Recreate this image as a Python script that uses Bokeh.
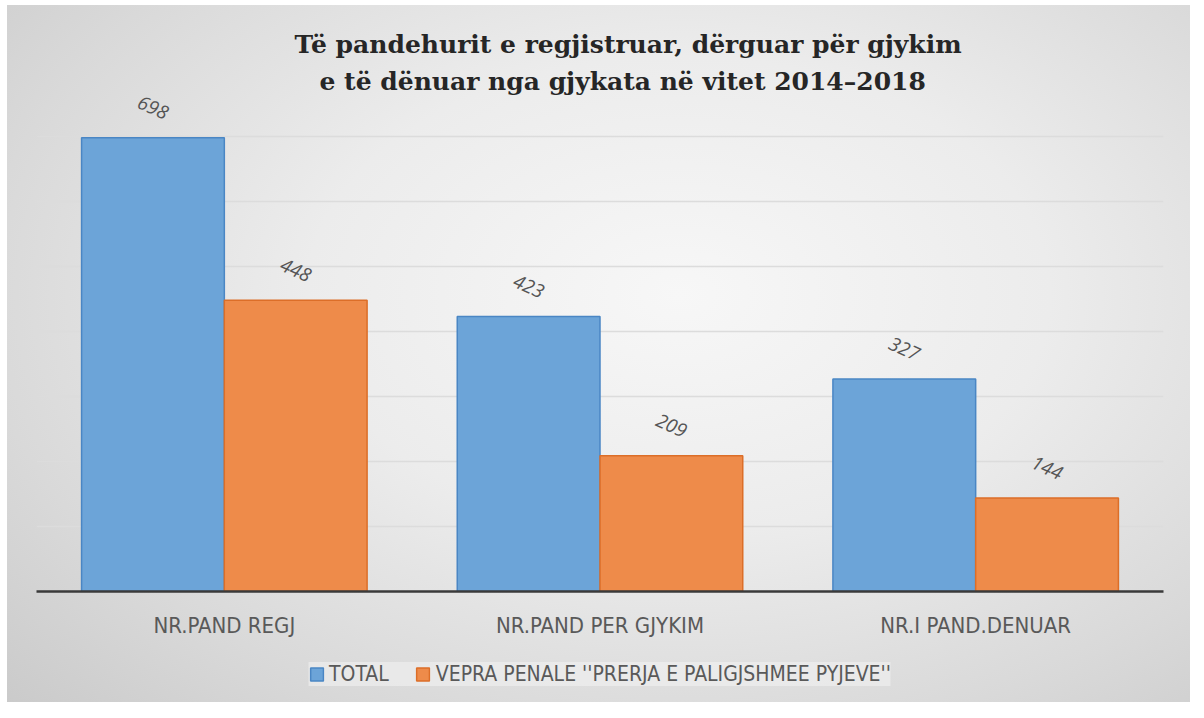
from bokeh.plotting import figure
from bokeh.layouts import column
from bokeh.models import (ColumnDataSource, FixedTicker, Legend, LegendItem,
                          InlineStyleSheet, Title)
from bokeh.transform import dodge
from bokeh.core.properties import value
from bokeh.embed import file_html
from bokeh.resources import INLINE

# ---- data ----
categories = ["NR.PAND REGJ", "NR.PAND PER GJYKIM", "NR.I PAND.DENUAR"]
total = [698, 423, 327]
vepra = [448, 209, 144]
series_names = ["TOTAL", "VEPRA PENALE ''PRERJA E PALIGJSHMEE PYJEVE''"]
grid_ticks = [100, 200, 300, 400, 500, 600, 700]
title_lines = ["Të pandehurit e regjistruar, dërguar për gjykim",
               "e të dënuar nga gjykata në vitet 2014–2018"]

src = ColumnDataSource(data=dict(
    cat=categories, total=total, vepra=vepra,
    total_lbl=[str(v) for v in total], vepra_lbl=[str(v) for v in vepra],
))

NARROW = "'Liberation Sans Narrow', 'DejaVu Sans Condensed', 'Open Sans', sans-serif"
blue_fill, blue_line = "#6ca4d8", "#4a86c4"
orange_fill, orange_line = "#ee8b4a", "#dc6e28"

# ---------------- main chart ----------------
p = figure(x_range=categories, y_range=(0, 760), width=1190, height=646,
           output_backend="svg", toolbar_location=None,
           min_border_left=36, min_border_right=27,
           min_border_top=97, min_border_bottom=55)
p.border_fill_alpha = 0
p.background_fill_alpha = 0
p.outline_line_color = None

tstyle = dict(align="left", text_font="DejaVu Serif", text_font_style="bold",
              text_font_size="25px", text_color="#262626")
p.add_layout(Title(text=title_lines[1], standoff=3, offset=283, **tstyle), "above")
p.add_layout(Title(text=title_lines[0], standoff=10, offset=258, **tstyle), "above")

r1 = p.vbar(x=dodge("cat", -0.19, range=p.x_range), top="total", width=0.38,
            source=src, fill_color=blue_fill, line_color=blue_line, line_width=1.5)
r2 = p.vbar(x=dodge("cat", 0.19, range=p.x_range), top="vepra", width=0.38,
            source=src, fill_color=orange_fill, line_color=orange_line, line_width=1.5)

lbl_style = dict(source=src, text_align="center", text_baseline="middle",
                 angle=-0.42, y_offset=-30, text_font=value("Open Sans"),
                 text_font_style="italic", text_font_size="19px", text_color="#555555")
p.text(x=dodge("cat", -0.19, range=p.x_range), y="total", text="total_lbl", **lbl_style)
p.text(x=dodge("cat", 0.19, range=p.x_range), y="vepra", text="vepra_lbl", **lbl_style)

p.yaxis.visible = False
p.xgrid.grid_line_color = None
p.ygrid.ticker = FixedTicker(ticks=grid_ticks)
p.ygrid.grid_line_color = "#dcdcdc"
p.ygrid.grid_line_width = 1.5

ax = p.xaxis[0]
ax.axis_line_color = "#3a3a3a"
ax.axis_line_width = 2.5
ax.major_tick_line_color = None
ax.minor_tick_line_color = None
ax.major_label_standoff = 15
ax.major_label_text_font = NARROW
ax.major_label_text_font_size = "22px"
ax.major_label_text_color = "#595959"

# ---------------- legend strip ----------------
lg = figure(width=1190, height=56, output_backend="svg", toolbar_location=None,
            min_border=0, x_axis_type=None, y_axis_type=None)
lg.border_fill_alpha = 0
lg.background_fill_alpha = 0
lg.outline_line_color = None
lg.grid.visible = False
# hidden renderers that only provide the legend swatches
d1 = lg.vbar(x="total", top="total", width=1, source=src, visible=False,
             fill_color=blue_fill, line_color=blue_line, line_width=1.5)
d2 = lg.vbar(x="vepra", top="vepra", width=1, source=src, visible=False,
             fill_color=orange_fill, line_color=orange_line, line_width=1.5)
legend = Legend(items=[LegendItem(label=series_names[0], renderers=[d1]),
                       LegendItem(label=series_names[1], renderers=[d2])],
                orientation="horizontal", location="center",
                label_text_font=NARROW, label_text_font_size="21px",
                label_text_color="#595959", glyph_width=16, glyph_height=16,
                spacing=26, label_standoff=5, padding=9, margin=0,
                background_fill_color="#f2f2f2", background_fill_alpha=0.6,
                border_line_color=None)
lg.add_layout(legend, "center")

layout = column(p, lg, spacing=0)
layout.stylesheets = [InlineStyleSheet(css=""":host {
  background:
    linear-gradient(#ffffff, #ffffff) left top / 100% 5px no-repeat,
    linear-gradient(#ffffff, #ffffff) left top / 7px 100% no-repeat,
    radial-gradient(ellipse 78% 85% at 57% 42%, #f7f7f7 0%, #ececec 40%, #d9d9d9 75%, #cacaca 100%);
}""")]

open("out.html", "w").write(file_html(layout, INLINE))
